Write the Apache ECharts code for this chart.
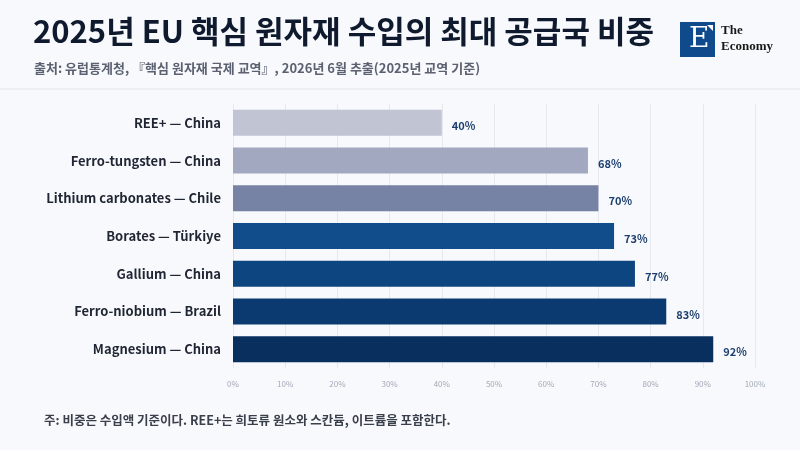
<!DOCTYPE html>
<html><head><meta charset="utf-8">
<script src="https://cdn.jsdelivr.net/npm/echarts@6/dist/echarts.min.js"></script>
<style>html,body{margin:0;background:#f8f9fc;}#c{width:800px;height:450px;}</style>
</head><body><div id="c"></div>
<script>
const categories = ['REE+ — China', 'Ferro-tungsten — China', 'Lithium carbonates — Chile', 'Borates — Türkiye', 'Gallium — China', 'Ferro-niobium — Brazil', 'Magnesium — China'];
const shares = [40, 68, 70, 73, 77, 83, 92];
const barColors = ['#c0c4d3', '#a1a8bf', '#7783a5', '#114d8b', '#0d4581', '#0a3a6f', '#092f5f'];
const xTicks = [0, 10, 20, 30, 40, 50, 60, 70, 80, 90, 100];

const font = '"Noto Sans CJK KR", "Noto Sans", sans-serif';
const chart = echarts.init(document.getElementById('c'));
chart.setOption({
  backgroundColor: '#f8f9fc',
  textStyle: { fontFamily: font },
  graphic: [
    { type: 'text', left: 33, top: 16, style: { text: '2025년 EU 핵심 원자재 수입의 최대 공급국 비중', font: 'bold 31px ' + font, fill: '#0f1a2e' } },
    { type: 'text', left: 34, top: 62, style: { text: '출처: 유럽통계청, 『핵심 원자재 국제 교역』, 2026년 6월 추출(2025년 교역 기준)', font: 'bold 13px ' + font, fill: '#5b6170' } },
    { type: 'rect', shape: { x: 680, y: 22, width: 35, height: 35 }, style: { fill: '#0e4a8c' } },
    { type: 'text', left: 689, top: 26, style: { text: 'E', font: '28px "DejaVu Serif", serif', fill: '#ffffff' } },
    { type: 'polygon', shape: { points: [[707, 25], [713, 25], [713, 31]] }, style: { fill: '#ffffff' } },
    { type: 'text', left: 721, top: 23, style: { text: 'The\nEconomy', font: '600 13px "Liberation Serif", serif', fill: '#1a1a1a', lineHeight: 16 } },
    { type: 'line', shape: { x1: 0, y1: 89, x2: 800, y2: 89 }, style: { stroke: '#e2e4ea', lineWidth: 1 } },
    { type: 'text', left: 44, top: 414, style: { text: '주: 비중은 수입액 기준이다. REE+는 희토류 원소와 스칸듐, 이트륨을 포함한다.', font: 'bold 12.5px ' + font, fill: '#3a3f4c' } }
  ],
  grid: { left: 233, right: 45, top: 104, bottom: 82 },
  xAxis: {
    type: 'value', min: 0, max: 100, interval: 10,
    axisLine: { show: false }, axisTick: { show: false },
    splitLine: { lineStyle: { color: '#e6e8ee' } },
    axisLabel: { formatter: v => xTicks.includes(v) ? v + '%' : '', color: '#a3a9b8', fontSize: 8, margin: 12 }
  },
  yAxis: {
    type: 'category', data: categories, inverse: true,
    axisLine: { show: false }, axisTick: { show: false },
    axisLabel: { color: '#1f2533', fontWeight: 'bold', fontSize: 13, margin: 12 }
  },
  series: [{
    type: 'bar', barWidth: 26,
    data: shares.map((v, i) => ({ value: v, itemStyle: { color: barColors[i] } })),
    label: { show: true, position: 'right', formatter: '{c}%', color: '#1d3f6e', fontWeight: 'bold', fontSize: 11, distance: 10, offset: [0, 3] }
  }]
});
</script></body></html>
